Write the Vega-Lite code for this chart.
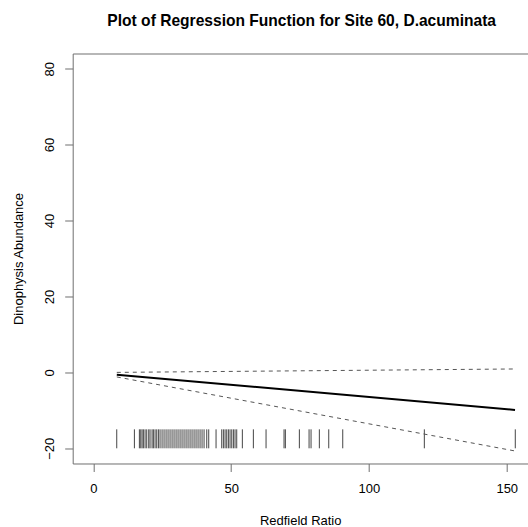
{
  "$schema": "https://vega.github.io/schema/vega-lite/v6.json",
  "width": 455,
  "height": 410,
  "autosize": {"type": "none"},
  "padding": {"left": 72.7, "top": 53.5, "right": 0, "bottom": 63.5},
  "title": {
    "text": "Plot of Regression Function for Site 60, D.acuminata",
    "font": "Liberation Sans",
    "fontSize": 15.6,
    "fontWeight": "bold",
    "color": "#000000",
    "anchor": "middle",
    "baseline": "alphabetic",
    "offset": 11.5,
    "dx": 1.5
  },
  "datasets": {
    "lines": [
      {"x": 8.5, "y": -0.6, "series": "fit"},
      {"x": 153, "y": -9.9, "series": "fit"},
      {"x": 8.5, "y": 0.0, "series": "upper"},
      {"x": 153, "y": 0.9, "series": "upper"},
      {"x": 8.5, "y": -1.2, "series": "lower"},
      {"x": 153, "y": -20.7, "series": "lower"}
    ],
    "rug": [
      {"x": 8.48}, {"x": 14.89}, {"x": 16.70}, {"x": 17.19}, {"x": 17.67}, {"x": 18.15},
      {"x": 18.76}, {"x": 19.36}, {"x": 20.09}, {"x": 20.57}, {"x": 21.30}, {"x": 21.78},
      {"x": 22.39}, {"x": 22.99}, {"x": 23.60}, {"x": 24.20}, {"x": 24.93}, {"x": 25.65},
      {"x": 26.38}, {"x": 27.10}, {"x": 27.83}, {"x": 28.56}, {"x": 29.28}, {"x": 30.01},
      {"x": 30.73}, {"x": 31.46}, {"x": 32.18}, {"x": 32.91}, {"x": 33.64}, {"x": 34.36},
      {"x": 35.09}, {"x": 35.81}, {"x": 36.54}, {"x": 37.26}, {"x": 37.99}, {"x": 38.72},
      {"x": 39.44}, {"x": 40.17}, {"x": 41.14}, {"x": 41.86}, {"x": 44.52}, {"x": 46.58},
      {"x": 47.18}, {"x": 47.79}, {"x": 48.39}, {"x": 48.99}, {"x": 49.60}, {"x": 50.21},
      {"x": 50.81}, {"x": 51.41}, {"x": 52.02}, {"x": 54.06}, {"x": 58.06}, {"x": 62.66},
      {"x": 69.19}, {"x": 69.67}, {"x": 74.75}, {"x": 78.27}, {"x": 78.99}, {"x": 82.0},
      {"x": 85.41}, {"x": 90.49}, {"x": 120.1}, {"x": 153.1}
    ]
  },
  "config": {
    "view": {"stroke": null},
    "font": "Liberation Sans",
    "axis": {
      "grid": false,
      "domainColor": "#6e6e6e",
      "tickColor": "#6e6e6e",
      "labelColor": "#000000",
      "titleColor": "#000000",
      "labelFont": "Liberation Sans",
      "titleFont": "Liberation Sans",
      "labelFontSize": 13,
      "titleFontSize": 13,
      "titleFontWeight": "normal",
      "tickSize": 8
    }
  },
  "resolve": {"axis": {"x": "independent"}},
  "layer": [
    {
      "data": {"name": "rug"},
      "mark": {"type": "rule", "color": "#444444", "strokeWidth": 1},
      "encoding": {
        "x": {
          "field": "x",
          "type": "quantitative",
          "scale": {"domain": [-7.5, 157.6], "nice": false, "zero": false},
          "axis": {
            "orient": "bottom",
            "values": [0, 50, 100, 150],
            "title": "Redfield Ratio",
            "labelBaseline": "top",
            "labelPadding": 11.5,
            "titlePadding": 19
          }
        },
        "y": {
          "datum": -20,
          "type": "quantitative",
          "scale": {"domain": [-24, 84], "nice": false, "zero": false},
          "axis": {
            "values": [-20, 0, 20, 40, 60, 80],
            "title": "Dinophysis Abundance",
            "labelAngle": -90,
            "labelAlign": "center",
            "labelBaseline": "alphabetic",
            "labelPadding": 11.5,
            "titlePadding": 17.5
          }
        },
        "y2": {"datum": -15}
      }
    },
    {
      "data": {"name": "lines"},
      "transform": [{"filter": "datum.series != 'fit'"}],
      "mark": {"type": "line", "color": "#555555", "strokeWidth": 1, "strokeDash": [4, 4]},
      "encoding": {
        "x": {"field": "x", "type": "quantitative", "axis": null},
        "y": {"field": "y", "type": "quantitative", "axis": {"values": [-20, 0, 20, 40, 60, 80], "title": "Dinophysis Abundance"}},
        "detail": {"field": "series"}
      }
    },
    {
      "data": {"name": "lines"},
      "transform": [{"filter": "datum.series == 'fit'"}],
      "mark": {"type": "line", "color": "#000000", "strokeWidth": 2},
      "encoding": {
        "x": {
          "field": "x",
          "type": "quantitative",
          "axis": {"orient": "top", "labels": false, "ticks": false, "domain": true, "title": null}
        },
        "y": {"field": "y", "type": "quantitative", "axis": {"values": [-20, 0, 20, 40, 60, 80], "title": "Dinophysis Abundance"}}
      }
    }
  ]
}
